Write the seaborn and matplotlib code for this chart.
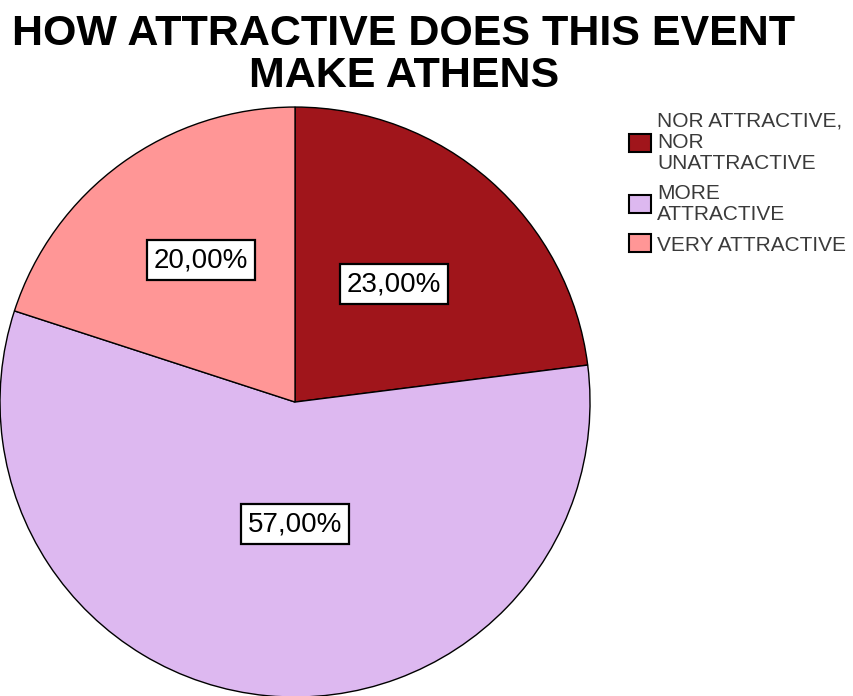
import matplotlib
matplotlib.use("Agg")
import matplotlib.pyplot as plt
import seaborn as sns

categories = ["NOR ATTRACTIVE,\nNOR\nUNATTRACTIVE", "MORE\nATTRACTIVE", "VERY ATTRACTIVE"]
values = [23.0, 57.0, 20.0]
pct_labels = ["23,00%", "57,00%", "20,00%"]
colors = ["#A0151B", "#DDB8F0", "#FF9696"]
label_pos = [(0.336, 0.400), (0.0, -0.414), (-0.318, 0.481)]

sns.set_theme(style="white")
plt.rcParams['font.family'] = ['Liberation Sans', 'DejaVu Sans']

fig = plt.figure(figsize=(8.54, 6.96), dpi=100)
ax = fig.add_axes([0.0, -0.0015, 0.6909, 0.8477])
wedges, _ = ax.pie(values, colors=sns.color_palette(colors), startangle=90, counterclock=False,
                   wedgeprops=dict(edgecolor="black", linewidth=1.0), radius=1.0)
ax.set_xlim(-1.0, 1.0)
ax.set_ylim(-1.0, 1.0)
ax.set_aspect("auto")
ax.axis("off")

for (x, y), t in zip(label_pos, pct_labels):
    ax.text(x, y, t, ha="center", va="center", fontsize=20, color="black",
            bbox=dict(boxstyle="square,pad=0.25", facecolor="white", edgecolor="black", linewidth=1.6))

fig.text(0.473, 0.980, "HOW ATTRACTIVE DOES THIS EVENT\nMAKE ATHENS", ha="center", va="top",
         fontsize=31, fontweight="bold", linespacing=1.06, color="black")

leg = fig.legend(wedges, categories, loc="upper left", bbox_to_anchor=(0.737, 0.840),
                 frameon=False, fontsize=15, handlelength=1.05, handleheight=0.95,
                 handletextpad=0.28, labelspacing=0.5, borderaxespad=0, borderpad=0)
for h in leg.legend_handles:
    h.set_edgecolor("black")
    h.set_linewidth(1.5)
for t in leg.get_texts():
    t.set_linespacing(1.16)
    t.set_color("#3a3a3a")

fig.savefig("out.png", dpi=100)
